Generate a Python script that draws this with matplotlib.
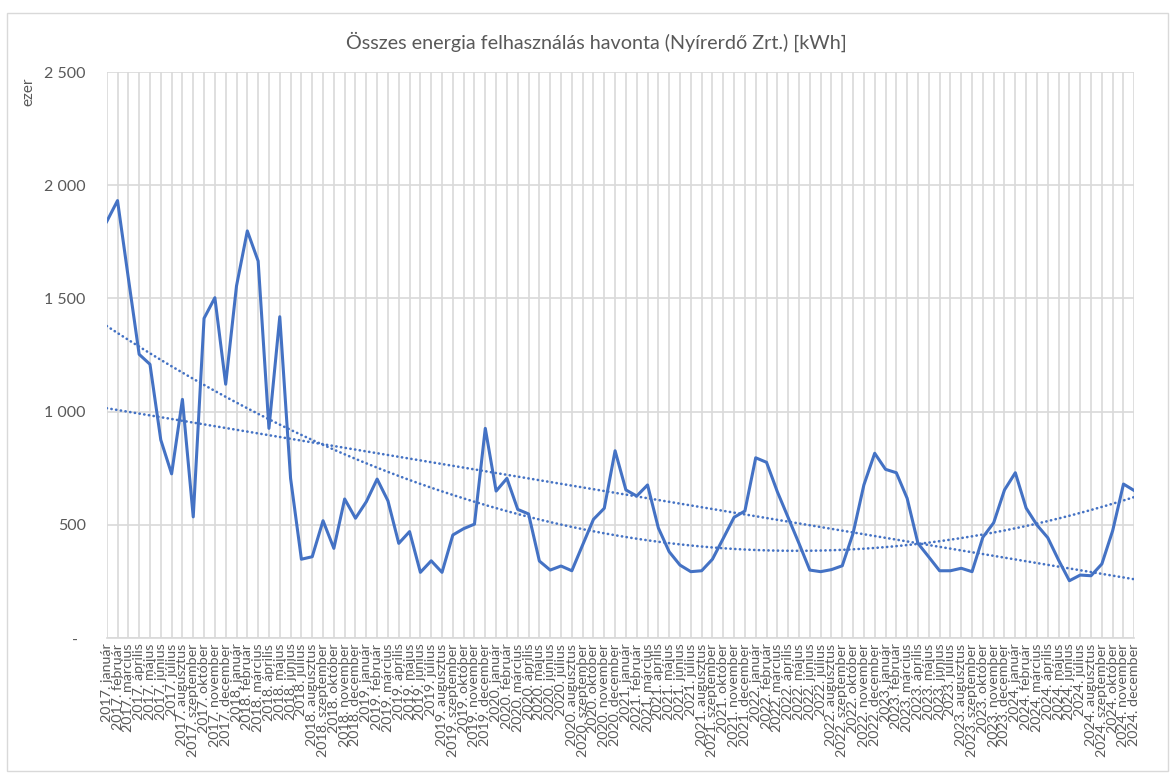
import numpy as np
import matplotlib
matplotlib.use("Agg")
import matplotlib.pyplot as plt
from matplotlib.patches import Rectangle

plt.rcParams["font.family"] = ["Lato", "DejaVu Sans"]

# havi adatok (ezer kWh), 2017. január - 2024. december
years = [2017, 2018, 2019, 2020, 2021, 2022, 2023, 2024]
months = ["január", "február", "március", "április", "május", "június",
          "július", "augusztus", "szeptember", "október", "november", "december"]
e2017 = [1839, 1932, 1590, 1253, 1209, 875, 725, 1054, 535, 1412, 1503, 1121]
e2018 = [1555, 1798, 1665, 926, 1419, 705, 348, 359, 518, 396, 614, 529]
e2019 = [602, 702, 606, 418, 470, 290, 341, 290, 455, 483, 503, 926]
e2020 = [649, 705, 568, 548, 340, 300, 318, 297, 411, 524, 573, 827]
e2021 = [654, 627, 676, 486, 381, 322, 293, 297, 348, 440, 533, 561]
e2022 = [796, 776, 646, 532, 418, 300, 293, 302, 319, 462, 676, 816]
e2023 = [745, 730, 617, 418, 358, 297, 297, 308, 293, 445, 509, 654]
e2024 = [730, 574, 499, 443, 344, 253, 278, 275, 327, 474, 680, 651]

values = e2017 + e2018 + e2019 + e2020 + e2021 + e2022 + e2023 + e2024
labels = [f"{y}. {m}" for y in years for m in months]
yticks = [0, 500, 1000, 1500, 2000, 2500]

blue = "#4472C4"
grey = "#595959"
grid = "#D9D9D9"

fig = plt.figure(figsize=(11.75, 7.78), dpi=100)
ax = fig.add_axes([106.7 / 1175, 1 - 638 / 778, (1134.3 - 106.7) / 1175, (638 - 72) / 778])

x = np.arange(len(values))
ax.plot(x, values, color=blue, lw=2.2, solid_joinstyle="round", zorder=3)

# trendvonalak: lineáris és másodfokú polinom
for deg in (1, 2):
    fit = np.polyval(np.polyfit(x, values, deg), x)
    ax.plot(x, fit, color=blue, lw=1.9, linestyle=(0, (0.1, 1.7)),
            dash_capstyle="round", zorder=2)

ax.set_xlim(0, len(values) - 1)
ax.set_ylim(0, 2500)
ax.set_yticks(yticks)
ax.set_yticklabels([f"{v:,}".replace(",", " ") if v else "-  " for v in yticks],
                   fontsize=11.5, color=grey)
ax.set_xticks(x)
ax.set_xticklabels(labels, rotation=90, fontsize=10.3, color=grey)
ax.tick_params(axis="y", length=0, pad=15)
ax.tick_params(axis="x", length=0, pad=4)
ax.grid(True, color=grid, lw=1.2)
ax.set_axisbelow(True)
for s in ["top", "right", "left"]:
    ax.spines[s].set_visible(False)
ax.spines["bottom"].set_color(grid)
ax.spines["bottom"].set_linewidth(1.2)

fig.text(28 / 1175, 1 - 92 / 778, "ezer", rotation=90, ha="center", va="center",
         fontsize=11, color=grey)
fig.text(596 / 1175, 1 - 42 / 778, "Összes energia felhasználás havonta (Nyírerdő Zrt.) [kWh]",
         ha="center", va="center", fontsize=14.2, color=grey)

fig.patches.append(Rectangle((6.5 / 1175, 1 - 771 / 778), (1168 - 6.5) / 1175, (771 - 12.5) / 778,
                             transform=fig.transFigure, fill=False, edgecolor=grid, lw=1))

fig.savefig("out.png", dpi=100)
